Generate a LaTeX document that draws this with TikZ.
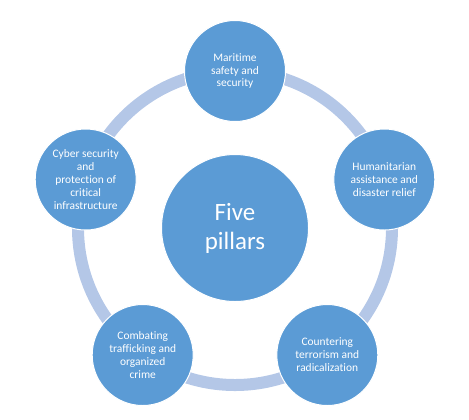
\documentclass[tikz,border=0pt]{standalone}
\usepackage{fontspec}
\setmainfont{Carlito}[Ligatures={NoCommon}]
\definecolor{ringc}{HTML}{B4C7E7}
\definecolor{circc}{HTML}{5B9BD5}
\begin{document}
\begin{tikzpicture}[x=1bp,y=-1bp,
  pillar/.style={circle,fill=circc,draw=white,line width=1bp,minimum size=101bp,inner sep=0pt,
    text=white,align=center,font=\fontsize{11.5}{13}\selectfont},
  hub/.style={circle,fill=circc,draw=white,line width=1bp,minimum size=147bp,inner sep=0pt,
    text=white,align=center,font=\fontsize{25}{29}\selectfont}]
\useasboundingbox (0,0) rectangle (469,419);
\coordinate (c) at (235,228);
\draw[ringc,line width=12bp] (c) circle[radius=157bp];
\node[hub] (hub) at (c) {Five\\pillars};
\node[pillar] (p1) at (235,71) {Maritime\\safety and\\security};
\node[pillar] (p2) at (384.3,179.5) {Humanitarian\\assistance and\\disaster relief};
\node[pillar] (p3) at (327.3,355) {Countering\\terrorism and\\radicalization};
\node[pillar] (p4) at (142.7,355) {Combating\\trafficking and\\organized\\crime};
\node[pillar] (p5) at (85.7,179.5) {Cyber security\\and\\protection of\\critical\\infrastructure};
\end{tikzpicture}
\end{document}
